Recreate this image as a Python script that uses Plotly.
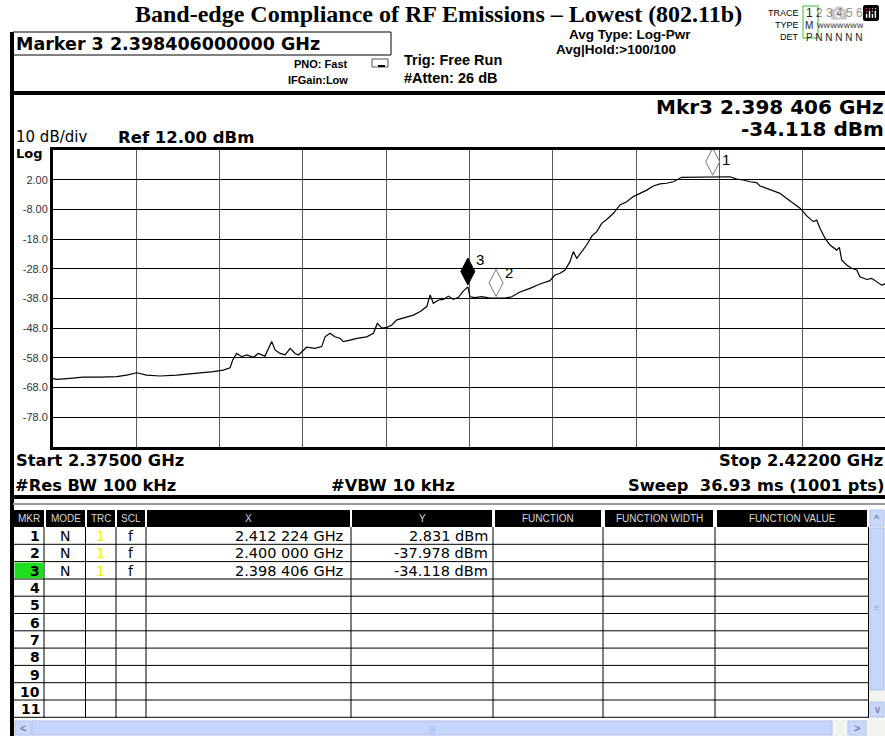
import plotly.graph_objects as go

# ---------------- data ----------------
freq_ghz = [
    2.37500, 2.37521, 2.37596, 2.37671, 2.37765, 2.37859, 2.37916, 2.37972, 2.38028, 2.38104,
    2.38198, 2.38273, 2.38348, 2.38405, 2.38461, 2.38499, 2.38514, 2.38536, 2.38565, 2.38593,
    2.38631, 2.38658, 2.38696, 2.38715, 2.38734, 2.38753, 2.38781, 2.38810, 2.38838, 2.38866,
    2.38885, 2.38931, 2.38978, 2.39016, 2.39035, 2.39063, 2.39091, 2.39119, 2.39138, 2.39176,
    2.39214, 2.39270, 2.39308, 2.39330, 2.39356, 2.39384, 2.39412, 2.39440, 2.39468, 2.39497,
    2.39534, 2.39572, 2.39609, 2.39628, 2.39646, 2.39675, 2.39703, 2.39731, 2.39759, 2.39788,
    2.39812, 2.39841, 2.39853, 2.39881, 2.39919, 2.39966, 2.40000, 2.40050, 2.40088, 2.40135,
    2.40191, 2.40248, 2.40304, 2.40332, 2.40361, 2.40389, 2.40417, 2.40436, 2.40455, 2.40483,
    2.40511, 2.40540, 2.40568, 2.40596, 2.40624, 2.40662, 2.40699, 2.40737, 2.40774, 2.40812,
    2.40850, 2.40887, 2.40925, 2.40962, 2.41000, 2.41047, 2.41094, 2.41151, 2.41207, 2.41222,
    2.41245, 2.41263, 2.41320, 2.41358, 2.41395, 2.41433, 2.41470, 2.41489, 2.41527, 2.41564,
    2.41602, 2.41640, 2.41677, 2.41715, 2.41753, 2.41790, 2.41809, 2.41828, 2.41856, 2.41884,
    2.41922, 2.41937, 2.41950, 2.41978, 2.42006, 2.42035, 2.42053, 2.42091, 2.42119, 2.42147,
    2.42176, 2.42200,
]
level_dbm = [
    -65.0, -65.2, -64.9, -64.5, -64.5, -64.3, -63.8, -63.0, -63.8, -64.1,
    -63.8, -63.4, -63.0, -62.6, -62.1, -61.3, -58.7, -56.5, -57.6, -57.0,
    -57.8, -56.5, -57.4, -54.8, -52.5, -55.3, -56.5, -57.0, -54.8, -56.5,
    -57.0, -54.4, -54.8, -54.2, -50.9, -49.7, -50.9, -51.4, -52.5, -52.0,
    -51.4, -50.9, -49.7, -46.4, -48.0, -47.7, -46.9, -45.2, -44.7, -44.1,
    -43.6, -42.4, -40.7, -36.8, -39.6, -38.5, -38.3, -37.2, -38.3, -37.6,
    -35.7, -34.1, -37.4, -37.7, -37.4, -37.9, -38.0, -37.9, -37.4, -35.8,
    -34.6, -33.1, -32.0, -30.1, -29.5, -28.4, -25.6, -22.2, -24.5, -22.2,
    -20.0, -17.0, -15.5, -12.7, -11.4, -9.3, -6.5, -5.4, -3.7, -2.6,
    -1.5, -0.1, 0.6, 0.8, 1.3, 2.8, 2.8, 3.0, 2.8, 2.83,
    3.0, 2.9, 3.0, 2.2, 1.9, 1.3, 1.0, -0.1, -0.9, -1.7,
    -2.6, -4.3, -6.0, -7.6, -10.2, -12.1, -11.6, -14.4, -17.7, -20.0,
    -21.7, -20.8, -25.0, -26.7, -27.8, -28.4, -30.7, -31.6, -31.2, -32.3,
    -33.5, -33.0,
]

marker_ids = ["1", "2", "3"]
marker_freq = [2.412224, 2.400000, 2.398406]
marker_level = [2.831, -37.978, -34.118]
marker_filled = [False, False, True]

ytick_vals = [2, -8, -18, -28, -38, -48, -58, -68, -78]
ytick_text = ["2.00", "-8.00", "-18.0", "-28.0", "-38.0", "-48.0", "-58.0", "-68.0", "-78.0"]

table_cols = ["MKR", "MODE", "TRC", "SCL", "X", "Y", "FUNCTION", "FUNCTION WIDTH", "FUNCTION VALUE"]
table_mkr = ["1", "2", "3", "4", "5", "6", "7", "8", "9", "10", "11"]
table_mode = ["N", "N", "N"]
table_trc = ["1", "1", "1"]
table_scl = ["f", "f", "f"]
table_x = ["2.412 224 GHz", "2.400 000 GHz", "2.398 406 GHz"]
table_y = ["2.831 dBm", "-37.978 dBm", "-34.118 dBm"]

# ---------------- geometry helpers ----------------
W, H = 885, 736
L, R, T, B = 53, 885, 150, 447
SANS = "Liberation Sans, Arial, sans-serif"
WIDE = "DejaVu Sans, Verdana, sans-serif"
SERIF = "Liberation Serif, Times New Roman, serif"


def px(x):
    return (x - L) / (R - L)


def py(y):
    return (B - y) / (B - T)


shapes = []
annotations = []


def rect(x0, y0, x1, y1, fill=None, line=None, lw=1):
    shapes.append(dict(type="rect", xref="paper", yref="paper",
                       x0=px(x0), x1=px(x1), y0=py(y1), y1=py(y0),
                       fillcolor=fill if fill else "rgba(0,0,0,0)",
                       line=dict(color=line if line else "rgba(0,0,0,0)", width=lw if line else 0)))


def seg(x0, y0, x1, y1, color="black", lw=1):
    shapes.append(dict(type="line", xref="paper", yref="paper",
                       x0=px(x0), x1=px(x1), y0=py(y0), y1=py(y1),
                       line=dict(color=color, width=lw)))


def text(s, x, y, size, anchor="left", color="black", family=SANS, bold=False):
    annotations.append(dict(text=("<b>%s</b>" % s) if bold else s, x=px(x), y=py(y),
                            xref="paper", yref="paper", xanchor=anchor, yanchor="middle",
                            showarrow=False, borderpad=0,
                            font=dict(family=family, size=size, color=color)))


# ---------------- figure ----------------
fig = go.Figure()
fig.add_trace(go.Scatter(x=freq_ghz, y=level_dbm, mode="lines",
                         line=dict(color="black", width=1.2), hoverinfo="skip", showlegend=False))

# markers (diamonds) anchored at data positions
for mid, f, lv, filled in zip(marker_ids, marker_freq, marker_level, marker_filled):
    shapes.append(dict(type="path", xref="x", yref="y", xsizemode="pixel", ysizemode="pixel",
                       xanchor=f, yanchor=lv,
                       path="M0,2 L-7,15.5 L0,29 L7,15.5 Z",
                       fillcolor="black" if filled else "white",
                       line=dict(color="black" if filled else "#777777", width=1)))
label_shift = {"1": (13, 18), "2": (13, 26), "3": (12, 27)}
for mid, f, lv in zip(marker_ids, marker_freq, marker_level):
    dx, dy = label_shift[mid]
    annotations.append(dict(text=mid, x=f, y=lv, xref="x", yref="y", showarrow=False,
                            xshift=dx, yshift=dy, font=dict(family=SANS, size=15, color="black")))

# ----- chrome: top header -----
text("Band-edge Compliance of RF Emissions \u2013 Lowest (802.11b)", 438, 14, 24, anchor="center",
     family=SERIF, bold=True)
rect(10, 32, 14, 736, fill="black")
rect(13, 32, 391, 55, line="black", lw=1)
text("Marker 3 2.398406000000 GHz", 15, 44, 17.5, family=WIDE, bold=True)
text("PNO: Fast", 349, 64, 11, anchor="right", bold=True)
text("IFGain:Low", 349, 80, 11, anchor="right", bold=True)
rect(372, 59, 388, 67, fill="white", line="#555555", lw=1)
seg(378, 66, 385, 66, color="black", lw=2)
text("Trig: Free Run", 403, 60, 14.5, bold=True)
text("#Atten: 26 dB", 403, 78, 14.5, bold=True)
text("Avg Type: Log-Pwr", 568, 34, 13.5, bold=True)
text("Avg|Hold:>100/100", 555, 49, 13.5, bold=True)
text("TRACE", 800, 13, 9, anchor="right")
text("TYPE", 800, 25, 9, anchor="right")
text("DET", 800, 37, 9, anchor="right")
text("1 2 3 4 5 6", 805, 13, 12, color="#222222")
text("M", 804, 25, 10, color="#222222")
text("WWWWWWW", 816, 25, 7, color="#222222")
text("P N N N N N", 805, 37, 10, color="#222222")
rect(803, 6, 818, 38, line="#7fcf7f", lw=1.5)

# ----- plot panel -----
rect(13, 91, 885, 95, fill="black")
rect(13, 495, 885, 499, fill="black")
seg(13, 504, 885, 504, color="#9a9a9a", lw=2)
text("Mkr3 2.398 406 GHz", 885, 107, 20, anchor="right", family=WIDE, bold=True)
text("-34.118 dBm", 885, 129, 20, anchor="right", family=WIDE, bold=True)
text("10 dB/div", 15, 137, 15, family=WIDE)
text("Log", 15, 153, 13, family=WIDE, bold=True)
text("Ref 12.00 dBm", 117, 137, 16.5, family=WIDE, bold=True)
text("Start 2.37500 GHz", 15, 460, 16.3, family=WIDE, bold=True)
text("#Res BW 100 kHz", 14, 485, 16.3, family=WIDE, bold=True)
text("#VBW 10 kHz", 330, 485, 16.3, family=WIDE, bold=True)
text("Stop 2.42200 GHz", 884, 460, 16.3, anchor="right", family=WIDE, bold=True)
text("Sweep  36.93 ms (1001 pts)", 885, 485, 16.3, anchor="right", family=WIDE, bold=True)

# ----- marker table -----
col_edges = [(14, 44), (46, 85), (87, 115), (117, 145), (147, 350), (352, 492),
             (495, 601), (605, 713), (717, 867)]
for (c0, c1), name in zip(col_edges, table_cols):
    rect(c0, 510, c1, 527, fill="black")
    text(name, (c0 + c1) / 2, 518.5, 10, anchor="center", color="#d8d8d8")
row_top = 527
row_h = 17.3
for i in range(1, 12):
    yline = row_top + i * row_h
    seg(14, yline, 868, yline, color="#7a7a7a" if i == 3 else "black", lw=2 if i == 3 else 1)
for xv in [44, 85.5, 116, 146, 351, 493, 603, 715, 868.5]:
    seg(xv, 527, xv, 718, color="black", lw=1)
rect(14.5, row_top + 2 * row_h + 1, 43.5, row_top + 3 * row_h - 0.5, fill="#1fe01f")
for i, m in enumerate(table_mkr):
    cy = row_top + (i + 0.5) * row_h + 0.5
    text(m, 41, cy, 14, anchor="right", family=WIDE, bold=True)
for i in range(len(table_x)):
    cy = row_top + (i + 0.5) * row_h + 0.5
    text(table_mode[i], 65, cy, 14, anchor="center", family=WIDE)
    text(table_trc[i], 100, cy, 14, anchor="center", family=WIDE, color="#f2f200")
    text(table_scl[i], 131, cy, 14, anchor="center", family=WIDE)
    text(table_x[i], 344, cy, 14.5, anchor="right", family=WIDE)
    text(table_y[i], 489, cy, 14.5, anchor="right", family=WIDE)

# vertical scrollbar
rect(869, 510, 885, 719, fill="#f3f3f0")
rect(870, 510, 884, 526, fill="#c9d8fa", line="#b0c4f0", lw=1)
text("^", 877, 519, 11, anchor="center", color="#4d6185")
rect(870, 528, 884, 690, fill="#c6d6fa", line="#aebff0", lw=1)
text("\u2261", 877, 607, 10, anchor="center", color="#9fb3e0")
rect(870, 702, 884, 717, fill="#c9d8fa", line="#b0c4f0", lw=1)
text("v", 877, 709, 10, anchor="center", color="#4d6185")
# horizontal scrollbar
rect(14, 720, 885, 736, fill="#f3f3f0")
rect(15, 721, 31, 735, fill="#c9d8fa", line="#b0c4f0", lw=1)
text("<", 23, 728, 11, anchor="center", color="#4d6185")
rect(32, 721, 832, 735, fill="#c6d6fa", line="#aebff0", lw=1)
text("|||", 432, 728, 8, anchor="center", color="#9fb3e0")
rect(848, 721, 866, 735, fill="#c9d8fa", line="#b0c4f0", lw=1)
text(">", 857, 728, 11, anchor="center", color="#4d6185")

fig.update_layout(
    width=W, height=H,
    margin=dict(l=L, r=W - R, t=T, b=H - B, pad=0),
    paper_bgcolor="white", plot_bgcolor="white",
    showlegend=False,
    shapes=shapes, annotations=annotations,
    xaxis=dict(range=[2.375, 2.375 + (R - L) * 0.047 / 833], tickmode="linear", tick0=2.375, dtick=0.0047,
               showticklabels=False, ticks="", showgrid=True, gridcolor="#5a5a5a", gridwidth=1,
               zeroline=False, showline=True, linecolor="black", linewidth=3, mirror=True,
               fixedrange=True),
    yaxis=dict(range=[-88, 12], tickmode="array", tickvals=ytick_vals, ticktext=ytick_text,
               ticks="", showgrid=True, gridcolor="black", gridwidth=1, zeroline=False,
               showline=True, linecolor="black", linewidth=3, mirror=False,
               tickfont=dict(family=SANS, size=11, color="#333333"), fixedrange=True),
)

fig.write_html("out.html", post_script="document.body.style.margin='0';document.body.style.overflow='hidden';")
